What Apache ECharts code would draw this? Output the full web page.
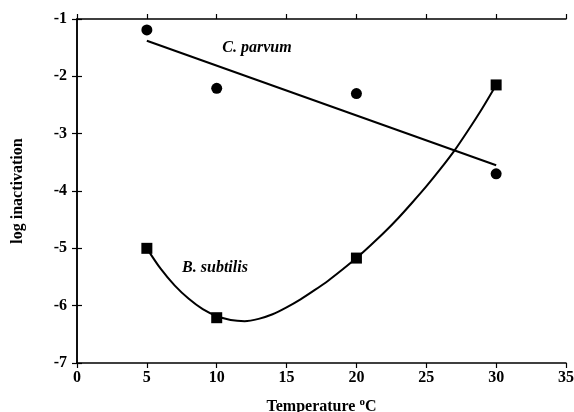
<!DOCTYPE html>
<html>
<head>
<meta charset="utf-8">
<script src="https://cdn.jsdelivr.net/npm/echarts@6/dist/echarts.min.js"></script>
<style>
    html, body { margin: 0; padding: 0; background: #fff; }
    #main { width: 574px; height: 412px; }
</style>
</head>
<body>
<div id="main"></div>
<script>
// C. parvum 测点
var parvumX = [5, 10, 20, 30];
var parvumY = [-1.19, -2.21, -2.30, -3.70];
// C. parvum 回归直线两端
var parvumLineX = [5, 30];
var parvumLineY = [-1.38, -3.55];

// B. subtilis 测点
var subtilisX = [5, 10, 20, 30];
var subtilisY = [-5.0, -6.21, -5.17, -2.15];
// B. subtilis 拟合曲线（逐度从图上读取）
var curveX = [5, 6, 7, 8, 9, 10, 11, 12, 13, 14, 15, 16, 17, 18, 19, 20,
    21, 22, 23, 24, 25, 26, 27, 28, 29, 30];
var curveY = [-5.0, -5.36, -5.65, -5.88, -6.06, -6.18, -6.25, -6.27, -6.23, -6.15, -6.03, -5.89, -5.73, -5.56, -5.37, -5.17,
    -4.95, -4.72, -4.47, -4.2, -3.92, -3.62, -3.3, -2.94, -2.56, -2.15];

function pairs(xs, ys) {
    var out = [];
    for (var i = 0; i < xs.length; i++) {
        out.push([xs[i], ys[i]]);
    }
    return out;
}

var font = 'Liberation Serif';
var axisLine = {lineStyle: {color: '#000', width: 1.5}};
var axisTick = {show: true, inside: false, length: 5, lineStyle: {color: '#000', width: 1.2}};

var chart = echarts.init(document.getElementById('main'));
var option = {
    backgroundColor: '#fff',
    animation: false,
    grid: {left: 77, right: 8, top: 19, bottom: 49, containLabel: false, outerBoundsMode: 'none'},
    xAxis: [{
        type: 'value',
        min: 0,
        max: 35,
        interval: 5,
        name: 'Temperature {sup|o}C',
        nameLocation: 'middle',
        nameGap: 34,
        nameTextStyle: {
            fontFamily: font, fontWeight: 'bold', fontSize: 16, color: '#000',
            rich: {sup: {fontFamily: font, fontWeight: 'bold', fontSize: 11, color: '#000', verticalAlign: 'top', padding: [0, 0, 8, 0]}}
        },
        axisLine: axisLine,
        axisTick: axisTick,
        splitLine: {show: false},
        axisLabel: {fontFamily: font, fontWeight: 'bold', fontSize: 16, color: '#000', margin: 7}
    }, {
        type: 'value',
        position: 'top',
        min: 0,
        max: 35,
        interval: 5,
        axisLine: axisLine,
        axisTick: axisTick,
        splitLine: {show: false},
        axisLabel: {show: false}
    }],
    yAxis: [{
        type: 'value',
        min: -7,
        max: -1,
        interval: 1,
        name: 'log inactivation',
        nameLocation: 'middle',
        nameGap: 51,
        nameTextStyle: {fontFamily: font, fontWeight: 'bold', fontSize: 16, color: '#000'},
        axisLine: axisLine,
        axisTick: axisTick,
        splitLine: {show: false},
        axisLabel: {fontFamily: font, fontWeight: 'bold', fontSize: 16, color: '#000', margin: 10}
    }, {
        type: 'value',
        position: 'right',
        min: -7,
        max: -1,
        interval: 1,
        axisLine: axisLine,
        axisTick: axisTick,
        splitLine: {show: false},
        axisLabel: {show: false}
    }],
    series: [{
        name: 'C. parvum fit',
        type: 'line',
        data: pairs(parvumLineX, parvumLineY),
        symbol: 'none',
        lineStyle: {color: '#000', width: 2}
    }, {
        name: 'C. parvum',
        type: 'scatter',
        data: pairs(parvumX, parvumY),
        symbol: 'circle',
        symbolSize: 11,
        itemStyle: {color: '#000', opacity: 1}
    }, {
        name: 'B. subtilis fit',
        type: 'line',
        data: pairs(curveX, curveY),
        smooth: 0.3,
        symbol: 'none',
        lineStyle: {color: '#000', width: 2}
    }, {
        name: 'B. subtilis',
        type: 'scatter',
        data: pairs(subtilisX, subtilisY),
        symbol: 'rect',
        symbolSize: 11,
        itemStyle: {color: '#000', opacity: 1},
        z: 3
    }],
    graphic: [{
        type: 'text',
        x: 257,
        y: 48,
        style: {
            text: 'C. parvum', fill: '#000', align: 'center', verticalAlign: 'middle',
            font: 'italic bold 16px "Liberation Serif"'
        }
    }, {
        type: 'text',
        x: 215,
        y: 268,
        style: {
            text: 'B. subtilis', fill: '#000', align: 'center', verticalAlign: 'middle',
            font: 'italic bold 16px "Liberation Serif"'
        }
    }]
};
chart.setOption(option);
</script>
</body>
</html>
